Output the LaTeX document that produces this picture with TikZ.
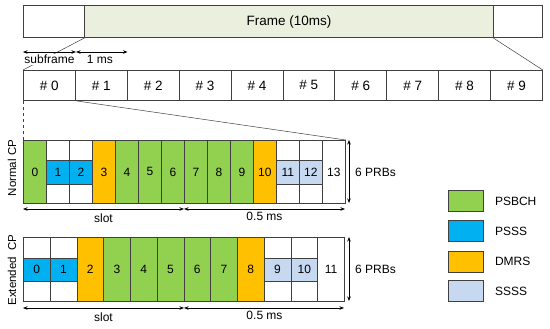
\documentclass[tikz,border=0pt]{standalone}
\usepackage{fontspec}
\setmainfont{Liberation Sans}
\usetikzlibrary{arrows.meta}
\definecolor{frm}{RGB}{235,240,222}
\definecolor{cgreen}{RGB}{146,208,80}
\definecolor{cblue}{RGB}{0,176,240}
\definecolor{corange}{RGB}{255,192,0}
\definecolor{clight}{RGB}{198,217,241}
\definecolor{edge}{RGB}{64,64,64}
\tikzset{
  box/.style={draw=edge, line width=0.8pt, inner sep=0pt, anchor=north west},
  dim/.style={{Stealth[length=4.5pt,width=3.5pt]}-{Stealth[length=4.5pt,width=3.5pt]}, line width=0.6pt, black},
  lbl/.style={font=\fontsize{12}{14}\selectfont, inner sep=1pt},
  guide/.style={draw=edge, line width=0.5pt},
}
\begin{document}
\begin{tikzpicture}[x=1pt,y=-1pt]
\useasboundingbox (0,0) rectangle (550,329);
% frame
\node[box, minimum width=61pt, minimum height=31.5pt] (fl) at (23,5.5) {};
\node[box, fill=frm, minimum width=409pt, minimum height=31.5pt, font=\fontsize{13.5}{16}\selectfont] (fm) at (84,5.5) {Frame (10ms)};
\node[box, minimum width=49pt, minimum height=31.5pt] (fr) at (493,5.5) {};
% subframes
\foreach \i in {0,...,9}{
  \node[box, minimum width=51.9pt, minimum height=30pt, font=\fontsize{13.5}{16}\selectfont] (s\i) at ({23+51.9*\i},70) {\# \i};
}
% zoom lines from frame
\draw[guide] (fr.south west) -- (s9.north east);
\draw[guide] (fl.south east) -- (s0.north west);
% subframe / 1 ms arrows
\coordinate (a0) at (23,52);
\coordinate (a1) at (76,52);
\coordinate (a2) at (127.5,52);
\draw[dim] (a0) -- (a1);
\draw[dim] (a1) -- (a2);
\node[lbl, fill=white, anchor=north] (lsub) at (49.5,54) {subframe};
\node[lbl, anchor=north] (l1ms) at (100,54) {1 ms};
% normal CP block
\foreach \i/\c in {0/cgreen,1/white,2/white,3/corange,4/cgreen,5/cgreen,6/cgreen,7/cgreen,8/cgreen,9/cgreen,10/corange,11/white,12/white,13/white}{
  \node[box, fill=\c, minimum width=23pt, minimum height=63pt] (n\i) at ({23+23*\i},140) {};
}
\foreach \i/\c in {1/cblue,2/cblue,11/clight,12/clight}{
  \node[box, fill=\c, minimum width=23pt, minimum height=24pt] (nb\i) at ({23+23*\i},160) {};
}
\foreach \i in {0,...,13}{
  \node[font=\fontsize{12}{14}\selectfont] at (n\i.center) {\i};
}
\draw[guide, dashed] (s0.south west) -- (n0.north west);
\draw[guide] (s0.south east) -- (n13.north east);
\node[rotate=90, font=\fontsize{11.5}{13}\selectfont] (lnorm) at (12,168) {Normal CP};
% normal arrows
\coordinate (b0) at (23,209);
\coordinate (b1) at (184,209);
\coordinate (b2) at (345,209);
\draw[dim] (b0) -- (b1);
\draw[dim] (b1) -- (b2);
\node[lbl, anchor=north] (lslot1) at (103.5,213) {slot};
\node[lbl, anchor=north] (lhalf1) at (264.5,211) {0.5 ms};
\coordinate (p0) at (349,140);
\coordinate (p1) at (349,203);
\draw[dim] (p0) -- (p1);
\node[lbl, anchor=west] (lprb1) at (354,172) {6 PRBs};
% extended CP block
\foreach \i/\c in {0/white,1/white,2/corange,3/cgreen,4/cgreen,5/cgreen,6/cgreen,7/cgreen,8/corange,9/white,10/white,11/white}{
  \node[box, fill=\c, minimum width=26.75pt, minimum height=64pt] (e\i) at ({23+26.75*\i},237) {};
}
\foreach \i/\c in {0/cblue,1/cblue,9/clight,10/clight}{
  \node[box, fill=\c, minimum width=26.75pt, minimum height=23pt] (eb\i) at ({23+26.75*\i},258) {};
}
\foreach \i in {0,...,11}{
  \node[font=\fontsize{12}{14}\selectfont] at (e\i.center) {\i};
}
\node[rotate=90, font=\fontsize{11.5}{13}\selectfont] (lext) at (12,270) {Extended\ \ CP};
\coordinate (c0) at (23,308);
\coordinate (c1) at (184,308);
\coordinate (c2) at (344,308);
\draw[dim] (c0) -- (c1);
\draw[dim] (c1) -- (c2);
\node[lbl, anchor=north] (lslot2) at (103.5,312) {slot};
\node[lbl, anchor=north] (lhalf2) at (264.5,310) {0.5 ms};
\coordinate (q0) at (349,237);
\coordinate (q1) at (349,301);
\draw[dim] (q0) -- (q1);
\node[lbl, anchor=west] (lprb2) at (354,269) {6 PRBs};
% legend
\foreach \n/\c/\y/\t in {g/cgreen/190/PSBCH, b/cblue/220/PSSS, o/corange/250.5/DMRS, l/clight/280/SSSS}{
  \node[box, fill=\c, minimum width=35pt, minimum height=21pt] (leg\n) at (448,\y) {};
  \node[lbl, anchor=west] (legt\n) at ([xshift=10pt]leg\n.east) {\t};
}
\end{tikzpicture}
\end{document}
